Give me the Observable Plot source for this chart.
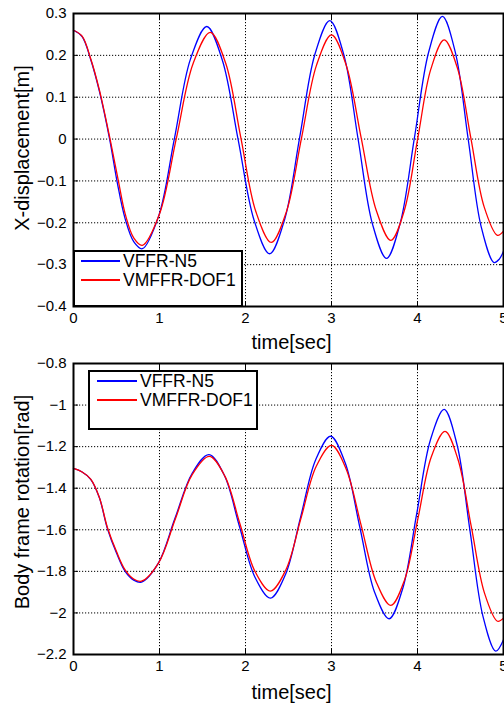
<!DOCTYPE html>
<html>
<head>
<meta charset="utf-8">
<script src="https://cdn.jsdelivr.net/npm/d3@7"></script>
<script src="https://cdn.jsdelivr.net/npm/@observablehq/plot@0.6"></script>
<style>
  body { margin: 0; background: #fff; }
  #wrap { position: relative; width: 504px; height: 706px; font-family: "Liberation Sans", Arial, sans-serif; overflow: hidden; }
  .panel { position: absolute; left: 0; width: 504px; height: 353px; }
  .legend { position: absolute; background: #fff; border: 2px solid #000; box-sizing: border-box; font-size: 17.5px; color: #000; }
  .legend .ln { position: absolute; height: 0; border-top: 2px solid; }
  .legend .tx { position: absolute; line-height: 16px; white-space: nowrap; }
</style>
</head>
<body>
<div id="wrap">
  <div class="panel" id="top" style="top:0"></div>
  <div class="panel" id="bottom" style="top:353px"></div>
</div>
<script>
// ---------- data ----------
const seriesNames = ["VFFR-N5", "VMFFR-DOF1"];
const seriesColors = ["#0000ff", "#ff0000"];
const xTicks = [0, 1, 2, 3, 4, 5];
const xLabel = "time[sec]";

// Top panel: X-displacement [m]
const topLabel = "X-displacement[m]";
const topTicks = [-0.4, -0.3, -0.2, -0.1, 0, 0.1, 0.2, 0.3];
const topN5_t = [0, 0.1, 0.2, 0.3, 0.42, 0.51, 0.6, 0.7, 0.8, 0.99, 1.175, 1.36, 1.55, 1.73, 1.915, 2.1, 2.28, 2.455, 2.63, 2.805, 2.98, 3.145, 3.31, 3.475, 3.64, 3.8, 3.965, 4.13, 4.29, 4.44, 4.59, 4.74, 4.89, 4.95, 5.0];
const topN5_v = [0.26, 0.245, 0.19, 0.115, 0.0, -0.105, -0.19, -0.245, -0.262, -0.184, 0.003, 0.191, 0.269, 0.189, -0.002, -0.194, -0.274, -0.192, 0.004, 0.201, 0.283, 0.200, -0.001, -0.202, -0.285, -0.200, 0.004, 0.208, 0.293, 0.207, -0.001, -0.209, -0.295, -0.287, -0.268];
const topDOF1_t = [0, 0.1, 0.2, 0.3, 0.42, 0.52, 0.6, 0.7, 0.8, 1.0, 1.195, 1.39, 1.59, 1.77, 1.945, 2.12, 2.30, 2.475, 2.65, 2.825, 3.0, 3.17, 3.345, 3.52, 3.69, 3.845, 4.0, 4.155, 4.31, 4.465, 4.62, 4.775, 4.93, 5.0];
const topDOF1_v = [0.26, 0.246, 0.192, 0.118, 0.005, -0.098, -0.178, -0.236, -0.254, -0.179, 0.001, 0.180, 0.255, 0.181, 0.004, -0.173, -0.247, -0.174, 0.001, 0.176, 0.249, 0.177, 0.003, -0.170, -0.242, -0.172, -0.002, 0.167, 0.237, 0.169, 0.003, -0.162, -0.230, -0.220];

// Bottom panel: Body frame rotation [rad]
const botLabel = "Body frame rotation[rad]";
const botTicks = [-2.2, -2, -1.8, -1.6, -1.4, -1.2, -1, -0.8];
const botN5_t = [0, 0.1, 0.2, 0.3, 0.395, 0.5, 0.6, 0.7, 0.79, 0.985, 1.18, 1.38, 1.575, 1.755, 1.93, 2.11, 2.29, 2.465, 2.64, 2.815, 2.99, 3.16, 3.33, 3.5, 3.67, 3.83, 3.99, 4.15, 4.31, 4.46, 4.61, 4.76, 4.91, 5.0];
const botN5_v = [-1.305, -1.322, -1.357, -1.445, -1.595, -1.712, -1.800, -1.842, -1.852, -1.762, -1.545, -1.328, -1.238, -1.339, -1.584, -1.828, -1.929, -1.815, -1.540, -1.264, -1.150, -1.279, -1.589, -1.899, -2.028, -1.880, -1.525, -1.168, -1.021, -1.191, -1.603, -2.014, -2.184, -2.129];
const botDOF1_t = [0, 0.1, 0.2, 0.3, 0.395, 0.5, 0.6, 0.7, 0.79, 0.99, 1.185, 1.38, 1.58, 1.76, 1.935, 2.11, 2.29, 2.47, 2.645, 2.82, 3.0, 3.17, 3.345, 3.52, 3.69, 3.85, 4.005, 4.16, 4.32, 4.47, 4.625, 4.78, 4.93, 5.0];
const botDOF1_v = [-1.305, -1.322, -1.356, -1.443, -1.590, -1.705, -1.793, -1.837, -1.847, -1.759, -1.547, -1.335, -1.247, -1.342, -1.571, -1.800, -1.895, -1.792, -1.545, -1.297, -1.194, -1.307, -1.579, -1.851, -1.964, -1.841, -1.546, -1.250, -1.127, -1.261, -1.584, -1.906, -2.040, -2.025];

// ---------- helpers ----------
function rows(tA, vA, name) { return tA.map((t, i) => ({ t, v: vA[i], series: name })); }
const fmt = d => String(Math.round(d * 10) / 10).replace("-", "\u2212");
const font = "'Liberation Sans', Arial, sans-serif";

function panel({ data, ticks, label, marginTop, marginBottom, yDy, xDy }) {
  const dom = [ticks[0], ticks[ticks.length - 1]];
  const grid = { stroke: "#000", strokeOpacity: 1, strokeWidth: 1, strokeDasharray: "1.2,1.8" };
  const inner = { tickSize: -5, tickFormat: () => "", label: null, stroke: "#000", strokeWidth: 1 };
  return Plot.plot({
    width: 504,
    height: 353,
    marginLeft: 73,
    marginRight: 1,
    marginTop,
    marginBottom,
    style: { fontFamily: font, fontSize: "15px", color: "#000", background: "#fff", overflow: "visible" },
    x: { domain: [0, 5] },
    y: { domain: dom },
    color: { domain: seriesNames, range: seriesColors },
    marks: [
      Plot.gridX(xTicks, grid),
      Plot.gridY(ticks, grid),
      Plot.axisX(xTicks, { ...inner, anchor: "bottom" }),
      Plot.axisX(xTicks, { ...inner, anchor: "top" }),
      Plot.axisY(ticks, { ...inner, anchor: "left" }),
      Plot.axisY(ticks, { ...inner, anchor: "right" }),
      Plot.line(data, { x: "t", y: "v", z: "series", stroke: "series", curve: "catmull-rom", strokeWidth: 1.3 }),
      Plot.frame({ stroke: "#000", strokeWidth: 2 }),
      Plot.axisX(xTicks, { anchor: "bottom", tickSize: 0, tickPadding: 6, label: null, fontSize: 15 }),
      Plot.axisY(ticks, { anchor: "left", tickSize: 0, tickPadding: 7, tickFormat: fmt, label: null, fontSize: 15 }),
      Plot.text([label], { text: d => d, frameAnchor: "left", rotate: -90, dx: -51, dy: yDy, fontSize: 20, lineAnchor: "middle", textAnchor: "middle" }),
      Plot.text([xLabel], { text: d => d, frameAnchor: "bottom", dx: 3, dy: xDy, fontSize: 20, lineAnchor: "middle", textAnchor: "middle" })
    ]
  });
}

const topData = [...rows(topN5_t, topN5_v, seriesNames[0]), ...rows(topDOF1_t, topDOF1_v, seriesNames[1])];
const botData = [...rows(botN5_t, botN5_v, seriesNames[0]), ...rows(botDOF1_t, botDOF1_v, seriesNames[1])];

document.getElementById("top").append(panel({ data: topData, ticks: topTicks, label: topLabel, marginTop: 13, marginBottom: 47, yDy: -12, xDy: 36 }));
document.getElementById("bottom").append(panel({ data: botData, ticks: botTicks, label: botLabel, marginTop: 10, marginBottom: 52, yDy: -7, xDy: 38 }));

// ---------- legends (HTML) ----------
function legend(box, rowsY, lineX, textX) {
  const el = document.createElement("div");
  el.className = "legend";
  Object.assign(el.style, { left: box[0] + "px", top: box[1] + "px", width: box[2] + "px", height: box[3] + "px" });
  seriesNames.forEach((name, i) => {
    const ln = document.createElement("div");
    ln.className = "ln";
    Object.assign(ln.style, { left: lineX[0] + "px", width: (lineX[1] - lineX[0]) + "px", top: (rowsY[i] - 1) + "px", borderColor: seriesColors[i] });
    const tx = document.createElement("div");
    tx.className = "tx";
    tx.textContent = name;
    Object.assign(tx.style, { left: textX + "px", top: (rowsY[i] - 8) + "px" });
    el.append(ln, tx);
  });
  document.getElementById("wrap").append(el);
}
legend([73, 250, 170, 57], [9, 28], [6, 45], 48);
legend([88, 370, 170, 60], [9, 28], [7, 47], 50);
</script>
</body>
</html>
